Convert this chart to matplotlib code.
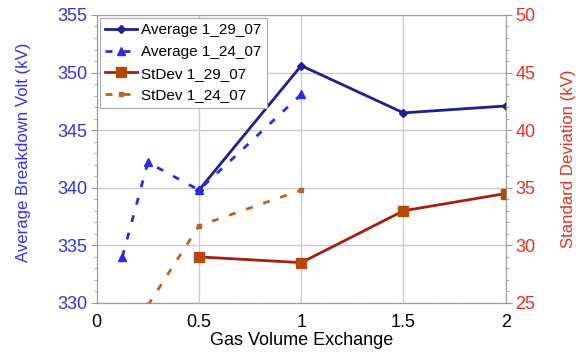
import matplotlib.pyplot as plt
from matplotlib.ticker import MultipleLocator

plt.rcParams['font.family'] = ['Liberation Sans', 'DejaVu Sans']

# gas volume exchange runs
x_129 = [0.5, 1.0, 1.5, 2.0]
x_124 = [0.125, 0.25, 0.5, 1.0]
x_124_sd = [0.25, 0.5, 1.0]

avg_129 = [339.8, 350.6, 346.5, 347.1]
avg_124 = [334.0, 342.2, 339.8, 348.1]
sd_129 = [29.0, 28.5, 33.0, 34.5]
sd_124 = [24.8, 31.7, 34.8]

c_avg1 = '#1f1f8f'
c_avg2 = '#2b2be6'
c_sd1 = '#a3200c'
c_sd1m = '#b5480c'
c_sd2 = '#c2601c'

fig = plt.figure(figsize=(5.76, 3.56), dpi=100)
ax = fig.add_axes([0.168, 0.149, 0.71, 0.809])
ax2 = ax.twinx()

l1, = ax.plot(x_129, avg_129, '-', color=c_avg1, lw=2, marker='D', ms=4.5,
              label='Average 1_29_07')
l2, = ax.plot(x_124, avg_124, linestyle=(0, (2.5, 4)), color=c_avg2, lw=2,
              marker='^', ms=6, label='Average 1_24_07')
l3, = ax2.plot(x_129, sd_129, '-', color=c_sd1, lw=2, marker='s', ms=7,
               mfc=c_sd1m, mec=c_sd1m, label='StDev 1_29_07')
l4, = ax2.plot(x_124_sd, sd_124, linestyle=(0, (2.5, 4)), color=c_sd2, lw=2,
               marker='s', ms=3, label='StDev 1_24_07')

ax.set_xlim(0, 2)
ax.set_ylim(330, 355)
ax2.set_ylim(25, 50)
ax.yaxis.set_major_locator(MultipleLocator(5))
ax.yaxis.set_minor_locator(MultipleLocator(1))
ax2.yaxis.set_major_locator(MultipleLocator(5))
ax2.yaxis.set_minor_locator(MultipleLocator(1))
ax.set_xticks([0, 0.5, 1, 1.5, 2], ['0', '0.5', '1', '1.5', '2'])

ax.grid(True, color='#cccccc', lw=1)
ax.set_axisbelow(True)
for a in (ax, ax2):
    for s in a.spines.values():
        s.set_linestyle((0, (1, 1.5)))
        s.set_color('#999999')
        s.set_linewidth(0.8)

ax.tick_params(axis='y', labelsize=13, length=4, width=0.8,
               color='#999999', pad=3)
ax.tick_params(axis='y', which='minor', length=2, color='#999999')
ax.tick_params(axis='x', labelsize=13, length=0, pad=8)
ax2.tick_params(axis='y', labelsize=13, length=4, width=0.8,
                color='#999999', pad=3)
ax2.tick_params(axis='y', which='minor', length=2, color='#999999')
for t in ax.get_yticklabels():
    t.set_color('#3333dd')
for t in ax2.get_yticklabels():
    t.set_color('#e03322')

ax.set_xlabel('Gas Volume Exchange', fontsize=13, labelpad=1)
ax.set_ylabel('Average Breakdown Volt (kV)', fontsize=12.1, color='#3333dd',
              labelpad=19)
ax.yaxis.label.set_y(0.524)
ax2.set_ylabel('Standard Deviation (kV)', fontsize=12.1, color='#e03322',
               labelpad=18)

leg = ax2.legend(handles=[l1, l2, l3, l4], loc='upper left', fontsize=11,
                 fancybox=False, framealpha=1, edgecolor='#aaaaaa',
                 borderpad=0.35, labelspacing=0.5, handlelength=2.1,
                 handletextpad=0.25, borderaxespad=0.2)
leg.get_frame().set_linewidth(0.8)

fig.savefig('out.png', dpi=100)
